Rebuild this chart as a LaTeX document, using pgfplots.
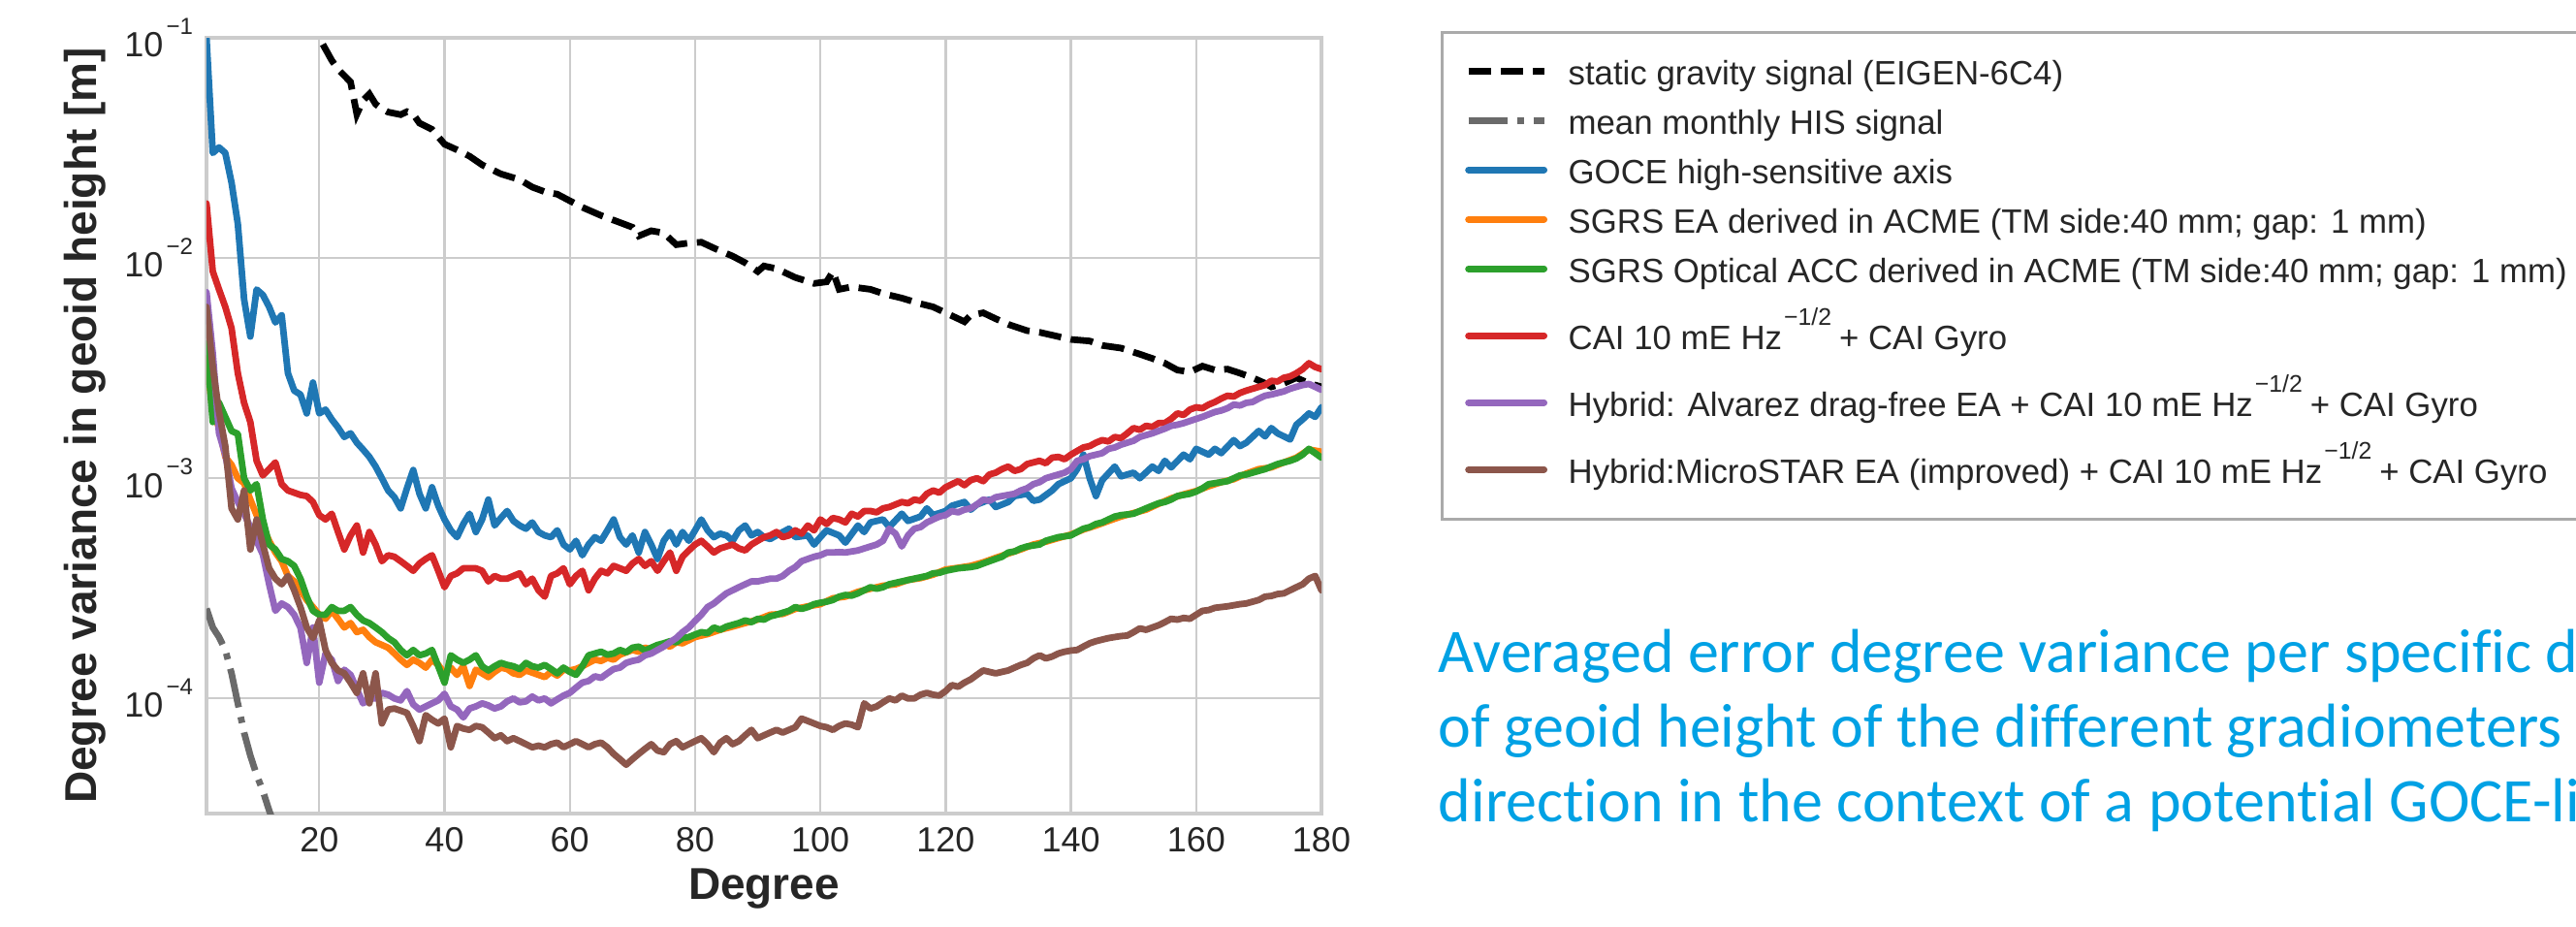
\documentclass[border=0pt]{standalone}
\usepackage{pgfplots}
\pgfplotsset{compat=1.18}
\usepackage{fontspec}
\setmainfont{Liberation Sans}[BoldFont={Liberation Sans Bold}]
\newfontfamily\calibri{Carlito}[Ligatures={NoCommon}]

\definecolor{tblue}{HTML}{1F77B4}
\definecolor{torange}{HTML}{FF7F0E}
\definecolor{tgreen}{HTML}{2CA02C}
\definecolor{tred}{HTML}{D62728}
\definecolor{tpurple}{HTML}{9467BD}
\definecolor{tbrown}{HTML}{8C564B}
\definecolor{hisgray}{HTML}{6A6A6A}
\definecolor{textgray}{HTML}{262626}
\definecolor{gridgray}{HTML}{CCCCCC}
\definecolor{framegray}{HTML}{AAAAAA}
\definecolor{capblue}{HTML}{00A1E4}

% exponent helpers
\newcommand{\ex}[1]{10\hspace{0.8pt}\raisebox{5.8pt}{\fontsize{6pt}{7pt}\selectfont −#1}}
\newcommand{\hz}{Hz\hspace{0.5pt}\raisebox{6.2pt}{\fontsize{6.2pt}{7pt}\selectfont −1/2}\hspace{2pt}}
\newcommand{\strN}{\rule{0pt}{8.4pt}}
\newcommand{\strS}{\rule{0pt}{12.9pt}}

\begin{document}
\begin{tikzpicture}
\useasboundingbox (0pt,0pt) rectangle (664.25pt,-238.75pt);
\clip (0pt,0pt) rectangle (664.25pt,-238.75pt);

\begin{axis}[
    at={(53.25pt,-209.75pt)}, anchor=south west,
    scale only axis, width=287.5pt, height=200pt,
    ymode=log,
    xmin=2, xmax=180, ymin=3e-5, ymax=1e-1,
    xtick={20,40,...,180},
    ytick={1e-4,1e-3,1e-2,1e-1},
    yticklabels={\ex{4},\ex{3},\ex{2},\ex{1}},
    minor tick num=0, yminorticks=false,
    major tick length=0pt,
    grid=major,
    grid style={draw=gridgray, line width=0.6pt},
    axis line style={draw=gridgray, line width=0.8pt},
    /pgf/number format/assume math mode=true,
    tick label style={font=\fontsize{9pt}{10pt}\selectfont, text=textgray},
    xticklabel style={inner sep=3.5pt},
    xlabel={Degree},
    ylabel={Degree variance in geoid height [m]},
    every axis x label/.style={at={(axis description cs:0.5,-0.0975)}, anchor=center,
        font=\fontsize{11.5pt}{13pt}\selectfont\bfseries, text=textgray},
    every axis y label/.style={at={(axis description cs:-0.1087,0.5)}, rotate=90, anchor=center,
        font=\fontsize{11.5pt}{13pt}\selectfont\bfseries, text=textgray},
    legend image code/.code={\draw[#1] (0pt,3.5pt) -- (19.5pt,3.5pt);},
    legend style={at={(1.1070,1.00875)}, anchor=north west,
        draw=framegray, line width=0.8pt, fill=white,
        inner xsep=5.9pt, inner ysep=5pt, column sep=5.4pt, row sep=0pt,
        font=\fontsize{8.7pt}{9.5pt}\selectfont, text=textgray,
        nodes={inner sep=0pt, text depth=4.35pt},
        cells={anchor=base west}},
]

% static gravity signal
\addplot[black, line width=1.7pt, dash pattern=on 5.8pt off 2.5pt] coordinates {
(18,0.125) (20,0.100) (22,0.079) (23,0.072) (25,0.063) (26,0.045) (27,0.052) (28,0.0556)
(29,0.050) (30,0.0476) (31,0.046) (33,0.0448) (34,0.0462) (35,0.045) (36,0.041) (38,0.0384)
(40,0.0329) (42,0.031) (44,0.0290) (46,0.0265) (49,0.0241) (52,0.0227) (54,0.021) (56,0.0200)
(58,0.0195) (60,0.0182) (62,0.017) (65,0.0156) (68,0.0145) (70,0.0138) (71,0.0126) (73,0.0133)
(75,0.0130) (77,0.0115) (79,0.0117) (81,0.0118) (83,0.0111) (86,0.0102) (88,0.00952) (90,0.00869)
(91,0.0092) (93,0.00895) (96,0.00816) (99,0.00767) (101,0.0078) (102,0.00869) (103,0.00721)
(105,0.0074) (108,0.00721) (110,0.0069) (113,0.00658) (116,0.0062) (118,0.0060) (120,0.00564)
(123,0.00514) (124,0.0055) (126,0.00564) (128,0.0053) (130,0.0050) (133,0.00468) (135,0.0046)
(138,0.00440) (140,0.00427) (143,0.0042) (145,0.00401) (148,0.0039) (151,0.00366) (153,0.0035)
(155,0.00333) (157,0.0031) (159,0.00304) (161,0.00323) (163,0.0031) (165,0.00313) (167,0.0030)
(169,0.00286) (171,0.0027) (172,0.00260) (174,0.0027) (176,0.00286) (178,0.0027) (180,0.00260)
};
\addlegendentry{\strN static gravity signal (EIGEN-6C4)}

% mean monthly HIS signal
\addplot[hisgray, line width=1.7pt, dash pattern=on 10.2pt off 2.5pt on 1.6pt off 2.5pt] coordinates {
(2,2.56e-4) (3,2.1e-4) (4,1.9e-4) (5,1.66e-4) (6,1.3e-4) (7,9.5e-5) (8,7e-5) (9,5.5e-5)
(10,4.5e-5) (11,3.8e-5) (12,3.1e-5) (13,2.6e-5) (14,2.1e-5) (15,1.7e-5)
};
\addlegendentry{\strN mean monthly HIS signal}

% GOCE
\addplot[tblue, line width=1.7pt, line join=round, line cap=round] coordinates {
(2,0.100) (3,0.030) (4,0.0318) (5,0.030) (6,0.022) (7,0.0143) (8,0.0065) (9,0.0044) (10,0.0072)
(11,0.0068) (12,0.0060) (13,0.0051) (14,0.0055) (15,0.0030) (16,0.0025) (17,0.0024) (18,0.00197)
(19,0.00272) (20,0.00197) (21,0.00205) (22,0.00185) (23,0.00170) (24,0.00154) (25,0.00160)
(26,0.00145) (27,0.00135) (28,0.00125) (29,0.00113) (30,0.00100) (31,0.00088) (32,0.00082)
(33,0.00073) (34,0.00090) (35,0.00109) (36,0.00085) (37,0.00073) (38,0.00091) (39,0.00075)
(40,0.00065) (41,0.00058) (42,0.00054) (43,0.00062) (44,0.00069) (45,0.00057) (46,0.00065)
(47,0.00080) (48,0.00061) (49,0.00066) (50,0.00071) (51,0.00064) (52,0.00061) (53,0.00059)
(54,0.00063) (55,0.00057) (56,0.00055) (57,0.00054) (58,0.00058) (59,0.00050) (60,0.000475)
(61,0.00052) (62,0.000447) (63,0.00050) (64,0.00054) (65,0.00052) (66,0.00058) (67,0.00065)
(68,0.00054) (69,0.00050) (70,0.00055) (71,0.00046) (72,0.00057) (73,0.00050) (74,0.00043)
(75,0.00052) (76,0.00057) (77,0.00050) (78,0.00057) (79,0.00052) (80,0.00058) (81,0.00065)
(82,0.00058) (83,0.00054) (84,0.00056) (85,0.00055) (86,0.00052) (87,0.00058) (88,0.00061)
(89,0.00055) (90,0.00057) (91,0.00054) (92,0.00053) (93,0.00055) (95,0.00059) (96,0.00054)
(98,0.00055) (99,0.00050) (100,0.00054) (101,0.00058) (103,0.00055) (104,0.00051) (106,0.00061)
(107,0.00057) (108,0.00063) (110,0.00065) (111,0.00060) (113,0.00069) (114,0.00064) (116,0.00067)
(117,0.00073) (118,0.00068) (120,0.00071) (121,0.00075) (123,0.00078) (124,0.00072) (125,0.00076)
(127,0.00080) (128,0.00074) (130,0.00078) (131,0.00083) (133,0.00085) (134,0.00079) (135,0.00080)
(137,0.00088) (138,0.00094) (140,0.00100) (141,0.00110) (142,0.00128) (143,0.00100) (144,0.00083)
(145,0.00098) (147,0.00113) (148,0.00102) (150,0.00106) (151,0.00100) (153,0.00113) (154,0.00108)
(155,0.00120) (156,0.00112) (158,0.00128) (159,0.00122) (160,0.00136) (162,0.00128) (163,0.00136)
(164,0.00130) (166,0.00149) (167,0.00140) (168,0.00145) (170,0.00164) (171,0.00155) (172,0.00169)
(173,0.00160) (175,0.00150) (176,0.00175) (177,0.00185) (178,0.00197) (179,0.00190) (180,0.00210)
};
\addlegendentry{\strN GOCE high-sensitive axis}

% SGRS EA
\addplot[torange, line width=1.7pt, line join=round, line cap=round] coordinates {
(2,0.0035) (3,0.0020) (4,0.0017) (5,0.00125) (6,0.00115) (7,0.00100) (8,0.00095) (9,0.00080)
(10,0.00068) (11,0.00060) (12,0.00052) (13,0.00046) (14,0.00042) (15,0.00036) (16,0.00034)
(17,0.00031) (18,0.00028) (19,0.00026) (20,0.00024) (21,0.00023) (22,0.00025) (23,0.00023)
(24,0.00021) (25,0.00022) (26,0.00020) (27,0.000205) (28,0.00019) (29,0.00018) (30,0.000175)
(31,0.000170) (32,0.00016) (33,0.000150) (34,0.000142) (35,0.000150) (36,0.000145) (37,0.000138)
(38,0.000150) (39,0.000142) (40,0.000130) (41,0.000138) (42,0.000128) (43,0.000140) (44,0.000114)
(45,0.000135) (46,0.000130) (47,0.000125) (48,0.000132) (49,0.000138) (50,0.000136) (51,0.000130)
(52,0.000128) (53,0.000134) (54,0.000131) (55,0.000128) (56,0.000125) (57,0.000132) (58,0.000127)
(59,0.000135) (60,0.000134) (61,0.000136) (62,0.000140) (63,0.000145) (64,0.000150) (65,0.000148)
(66,0.000153) (67,0.000150) (68,0.000158) (69,0.000162) (70,0.000166) (71,0.000163) (72,0.000170)
(73,0.000167) (74,0.000172) (75,0.000176) (76,0.000172) (77,0.000180) (78,0.000178) (80,0.000190)
(82,0.000196) (84,0.000205) (86,0.000212) (88,0.00022) (90,0.000228) (92,0.00024) (94,0.000242)
(96,0.000255) (98,0.000262) (100,0.000268) (102,0.000285) (104,0.000290) (106,0.000305)
(108,0.000315) (110,0.000325) (112,0.000330) (114,0.000345) (116,0.000352) (118,0.000365)
(120,0.000385) (122,0.000392) (124,0.0004) (126,0.000415) (128,0.000435) (130,0.000455)
(132,0.000475) (134,0.0005) (136,0.000515) (138,0.000535) (140,0.000555) (142,0.000585)
(144,0.00061) (146,0.00064) (148,0.00067) (150,0.000695) (152,0.00072) (154,0.000765) (156,0.00081)
(158,0.000845) (160,0.000875) (162,0.00092) (164,0.00096) (166,0.00099) (168,0.00105) (170,0.0011)
(172,0.00112) (174,0.00118) (176,0.00124) (178,0.00135) (180,0.00132)
};
\addlegendentry{\strN SGRS EA derived in ACME (TM side:40 mm; gap: 1 mm)}

% SGRS Optical ACC
\addplot[tgreen, line width=1.7pt, line join=round, line cap=round] coordinates {
(2,0.0041) (3,0.0018) (4,0.0022) (5,0.0019) (6,0.00164) (7,0.00159) (8,0.00100) (9,0.00088)
(10,0.00094) (11,0.00065) (12,0.00050) (13,0.000475) (14,0.00043) (15,0.00042) (16,0.00040)
(17,0.00035) (18,0.00029) (19,0.00025) (20,0.00024) (21,0.00024) (22,0.00026) (23,0.00025)
(24,0.00025) (25,0.00026) (26,0.00024) (27,0.000226) (28,0.00022) (29,0.00021) (30,0.00020)
(31,0.000188) (32,0.00018) (33,0.000166) (34,0.000157) (35,0.000166) (36,0.000157) (37,0.000160)
(38,0.000166) (39,0.000140) (40,0.000118) (41,0.000157) (42,0.000150) (43,0.000145) (44,0.000150)
(45,0.000157) (46,0.000140) (47,0.000134) (48,0.000140) (49,0.000145) (50,0.000142) (51,0.000140)
(52,0.000136) (53,0.000145) (54,0.000140) (55,0.000138) (56,0.000142) (57,0.000136) (58,0.000130)
(59,0.000138) (60,0.000132) (61,0.000128) (62,0.000140) (63,0.000157) (64,0.000160) (65,0.000163)
(66,0.000158) (67,0.000160) (68,0.000166) (69,0.000162) (70,0.000170) (71,0.000172) (72,0.000165)
(73,0.000170) (74,0.000175) (75,0.000178) (76,0.000182) (77,0.000180) (78,0.000188) (79,0.000190)
(80,0.000195) (81,0.000200) (82,0.000198) (83,0.00021) (84,0.000205) (85,0.000212) (86,0.000216)
(87,0.00022) (88,0.000226) (89,0.000222) (90,0.00023) (91,0.000228) (92,0.000236) (93,0.00024)
(94,0.000245) (95,0.00025) (96,0.00026) (97,0.000255) (98,0.00026) (99,0.000268) (100,0.000272)
(101,0.000275) (102,0.00028) (103,0.00029) (104,0.000295) (105,0.000293) (106,0.0003) (107,0.00031)
(108,0.00032) (109,0.000315) (110,0.00032) (111,0.00033) (112,0.000335) (113,0.00034)
(114,0.000345) (115,0.00035) (116,0.000355) (117,0.00036) (118,0.00037) (119,0.000372)
(120,0.00038) (122,0.00039) (124,0.000395) (125,0.0004) (126,0.00041) (127,0.00042) (128,0.00043)
(129,0.00044) (130,0.00046) (131,0.000465) (132,0.00048) (133,0.00049) (134,0.000495) (135,0.0005)
(136,0.00052) (137,0.00053) (138,0.00054) (139,0.000545) (140,0.00055) (141,0.00057) (142,0.00059)
(143,0.0006) (144,0.00062) (145,0.00063) (146,0.00065) (147,0.00067) (148,0.00068) (149,0.000685)
(150,0.00069) (151,0.00071) (152,0.00073) (153,0.00075) (154,0.00077) (155,0.00078) (156,0.0008)
(157,0.00083) (158,0.00084) (159,0.00085) (160,0.00087) (161,0.0009) (162,0.00094) (163,0.00095)
(164,0.00096) (165,0.00097) (166,0.001) (167,0.00103) (168,0.00104) (169,0.00106) (170,0.00108)
(171,0.0011) (172,0.00113) (173,0.00116) (174,0.00118) (175,0.0012) (176,0.00123) (177,0.00128)
(178,0.00136) (179,0.0013) (180,0.00124)
};
\addlegendentry{\strN \makebox[290pt][l]{SGRS Optical ACC derived in ACME (TM side:40 mm; gap: 1 mm)}}

% CAI
\addplot[tred, line width=1.7pt, line join=round, line cap=round] coordinates {
(2,0.0177) (3,0.0087) (4,0.0072) (5,0.0060) (6,0.0048) (7,0.0030) (8,0.0022) (9,0.0018)
(10,0.00120) (11,0.00103) (12,0.00110) (13,0.00118) (14,0.00094) (15,0.00088) (16,0.00086)
(17,0.00084) (18,0.00083) (19,0.00078) (20,0.00068) (21,0.00065) (22,0.00069) (23,0.00057)
(24,0.000475) (25,0.00055) (26,0.00061) (27,0.00046) (28,0.00057) (29,0.00050) (30,0.00042)
(31,0.000447) (32,0.00044) (33,0.00042) (34,0.00040) (35,0.00038) (36,0.00041) (37,0.00043)
(38,0.000447) (39,0.00038) (40,0.00032) (41,0.00036) (42,0.00037) (43,0.00039) (44,0.00039)
(45,0.00039) (46,0.00038) (47,0.00034) (48,0.00036) (49,0.00035) (50,0.00035) (51,0.00036)
(52,0.00037) (53,0.00033) (54,0.00035) (55,0.00031) (56,0.00029) (57,0.00036) (58,0.00037)
(59,0.00039) (60,0.00033) (61,0.00036) (62,0.00038) (63,0.00031) (64,0.00035) (65,0.00038)
(66,0.00037) (67,0.00040) (68,0.00039) (69,0.00038) (70,0.00041) (71,0.00043) (72,0.00040)
(73,0.00042) (74,0.00038) (75,0.00042) (76,0.00046) (77,0.00038) (78,0.00044) (79,0.00047)
(80,0.00050) (81,0.00052) (82,0.00049) (83,0.00046) (84,0.00048) (85,0.00049) (86,0.00050)
(87,0.00048) (88,0.00047) (89,0.00050) (90,0.00052) (91,0.00054) (92,0.00055) (93,0.00057)
(94,0.00054) (95,0.00055) (96,0.00058) (97,0.00056) (98,0.00061) (99,0.00058) (100,0.00065)
(101,0.00062) (102,0.00066) (103,0.00065) (104,0.00063) (105,0.00069) (106,0.00067) (107,0.00071)
(108,0.00071) (109,0.00070) (110,0.00073) (111,0.00074) (112,0.00076) (113,0.00078) (114,0.00077)
(115,0.00080) (116,0.00079) (117,0.00085) (118,0.00088) (119,0.00086) (120,0.00091) (122,0.00097)
(123,0.00093) (124,0.00098) (125,0.00100) (126,0.00097) (127,0.00104) (128,0.00106) (129,0.00110)
(130,0.00113) (131,0.00108) (132,0.00110) (133,0.00116) (134,0.00118) (135,0.00120) (136,0.00117)
(137,0.00124) (138,0.00125) (139,0.00122) (140,0.00128) (141,0.00133) (142,0.00138) (143,0.00140)
(144,0.00145) (145,0.00149) (146,0.00147) (147,0.00154) (148,0.00152) (149,0.00160) (150,0.00169)
(151,0.00166) (152,0.00173) (153,0.00171) (154,0.00178) (155,0.00178) (156,0.00186) (157,0.00197)
(158,0.00194) (159,0.00205) (160,0.00210) (161,0.00208) (162,0.00216) (163,0.00222) (164,0.00230)
(165,0.00237) (166,0.00235) (167,0.00244) (168,0.00250) (169,0.00255) (170,0.00260) (171,0.00265)
(172,0.00277) (173,0.00275) (174,0.00286) (175,0.00290) (176,0.00300) (177,0.00313) (178,0.00333)
(179,0.00320) (180,0.00313)
};
\addlegendentry{\strS CAI 10 mE \hz + CAI Gyro}

% Hybrid Alvarez
\addplot[tpurple, line width=1.7pt, line join=round, line cap=round] coordinates {
(2,0.0070) (3,0.0037) (4,0.0016) (5,0.00128) (6,0.00090) (7,0.00078) (8,0.00069) (9,0.00060)
(10,0.00052) (11,0.00045) (12,0.00033) (13,0.00025) (14,0.00027) (15,0.00026) (16,0.00024)
(17,0.00021) (18,0.000145) (19,0.00021) (20,0.000118) (21,0.000160) (22,0.000150) (23,0.00012)
(24,0.000135) (25,0.000128) (26,0.000110) (27,0.000095) (28,0.000100) (29,0.000100) (30,0.000106)
(31,0.000104) (32,0.000100) (33,0.000098) (34,0.000108) (35,0.000094) (36,0.000089) (37,0.000092)
(38,0.000095) (39,0.000098) (40,0.000105) (41,0.000092) (42,0.000089) (43,0.000082) (44,0.000090)
(45,0.000092) (46,0.000095) (47,0.000093) (48,0.000090) (49,0.000092) (50,0.000097) (51,0.000100)
(52,0.000096) (53,0.000097) (54,0.000102) (55,0.000098) (56,0.000100) (57,0.000095) (58,0.000099)
(59,0.000103) (60,0.000106) (61,0.000112) (62,0.000118) (63,0.000120) (64,0.000126) (65,0.000124)
(66,0.000130) (67,0.000136) (68,0.000138) (69,0.000145) (70,0.000148) (71,0.000150) (72,0.000157)
(73,0.000160) (74,0.000166) (75,0.000172) (76,0.000180) (77,0.000188) (78,0.00020) (79,0.00021)
(80,0.000225) (81,0.00024) (82,0.00026) (83,0.00027) (84,0.000285) (85,0.0003) (86,0.00031)
(87,0.00032) (88,0.00033) (89,0.00034) (90,0.00034) (91,0.000345) (92,0.00035) (93,0.00035)
(94,0.00036) (95,0.00038) (96,0.000395) (97,0.00042) (98,0.00043) (99,0.00044) (100,0.000447)
(101,0.00046) (102,0.00046) (103,0.000462) (104,0.00046) (105,0.000465) (106,0.00047) (107,0.00048)
(108,0.00049) (109,0.0005) (110,0.00052) (111,0.00059) (112,0.00056) (113,0.00049) (114,0.00055)
(115,0.00059) (116,0.0006) (117,0.00063) (118,0.00065) (119,0.00067) (120,0.00068) (121,0.00071)
(122,0.0007) (123,0.00072) (124,0.00073) (125,0.00076) (126,0.0008) (127,0.00079) (128,0.00082)
(129,0.00083) (130,0.00084) (131,0.00085) (132,0.00088) (133,0.0009) (134,0.00094) (135,0.00096)
(136,0.001) (137,0.00102) (138,0.00104) (139,0.00106) (140,0.0011) (141,0.0012) (142,0.00122)
(143,0.00126) (144,0.00128) (145,0.0013) (146,0.00136) (147,0.00138) (148,0.00142) (149,0.00145)
(150,0.00148) (151,0.00154) (152,0.00157) (153,0.0016) (154,0.00164) (155,0.00168) (156,0.00173)
(157,0.00175) (158,0.00178) (159,0.00182) (160,0.00186) (161,0.0019) (162,0.00195) (163,0.002)
(164,0.00203) (165,0.00208) (166,0.00216) (167,0.00214) (168,0.0022) (169,0.00222) (170,0.0023)
(171,0.00237) (172,0.0024) (173,0.00244) (174,0.00248) (175,0.00255) (176,0.0026) (177,0.00265)
(178,0.00268) (179,0.0026) (180,0.00252)
};
\addlegendentry{\strS Hybrid: Alvarez drag-free EA + CAI 10 mE \hz + CAI Gyro}

% Hybrid MicroSTAR
\addplot[tbrown, line width=1.7pt, line join=round, line cap=round] coordinates {
(2,0.0060) (3,0.0032) (4,0.0020) (5,0.00140) (6,0.00073) (7,0.00065) (8,0.00088) (9,0.000475)
(10,0.00065) (11,0.0005) (12,0.00039) (13,0.00035) (14,0.00033) (15,0.00036) (16,0.00031)
(17,0.00026) (18,0.00021) (19,0.000188) (20,0.000226) (21,0.000166) (22,0.000145) (23,0.000134)
(24,0.00013) (25,0.000118) (26,0.000106) (27,0.00013) (28,0.000095) (29,0.00013) (30,0.000077)
(31,0.000089) (32,0.00009) (33,0.000088) (34,0.000086) (35,0.000075) (36,0.000064) (37,0.000084)
(38,0.000080) (39,0.000077) (40,0.000081) (41,0.00006) (42,0.000075) (43,0.000073) (44,0.000072)
(45,0.000075) (46,0.000074) (47,0.000070) (48,0.000066) (49,0.000068) (50,0.000064) (51,0.000066)
(52,0.000064) (53,0.000062) (54,0.00006) (55,0.000061) (56,0.00006) (57,0.000062) (58,0.000063)
(59,0.00006) (60,0.000062) (61,0.000064) (62,0.000062) (63,0.00006) (64,0.000062) (65,0.000063)
(66,0.00006) (67,0.000056) (68,0.000053) (69,0.00005) (70,0.000053) (71,0.000056) (72,0.000059)
(73,0.000062) (74,0.000058) (75,0.000057) (76,0.000062) (77,0.000064) (78,0.00006) (79,0.000062)
(80,0.000064) (81,0.000066) (82,0.000062) (83,0.000057) (84,0.000063) (85,0.000066) (86,0.000062)
(87,0.000064) (88,0.000068) (89,0.000072) (90,0.000066) (91,0.000068) (92,0.00007) (93,0.000072)
(94,0.00007) (95,0.000072) (96,0.000074) (97,0.000081) (98,0.000079) (99,0.000077) (100,0.000075)
(101,0.000074) (102,0.000072) (103,0.000075) (104,0.000077) (105,0.000076) (106,0.000074)
(107,0.000095) (108,0.00009) (109,0.000092) (110,0.000096) (111,0.0001) (112,0.000098)
(113,0.000103) (114,0.0001) (115,0.0001) (116,0.000104) (117,0.000106) (118,0.000104)
(119,0.000103) (120,0.000108) (121,0.000115) (122,0.000113) (123,0.000118) (124,0.000122)
(125,0.000128) (126,0.000134) (127,0.000132) (128,0.00013) (129,0.000132) (130,0.000134)
(131,0.000138) (132,0.000142) (133,0.000145) (134,0.000152) (135,0.000157) (136,0.000152)
(137,0.000155) (138,0.00016) (139,0.000163) (140,0.000165) (141,0.000166) (142,0.000172)
(143,0.000178) (144,0.000182) (145,0.000185) (146,0.000188) (147,0.00019) (148,0.000192)
(149,0.000193) (150,0.0002) (151,0.000208) (152,0.000205) (153,0.00021) (154,0.000215)
(155,0.000222) (156,0.00023) (157,0.000228) (158,0.000232) (159,0.00023) (160,0.00024)
(161,0.00025) (162,0.000252) (163,0.000258) (164,0.00026) (165,0.000262) (166,0.000265)
(167,0.000268) (168,0.00027) (169,0.000275) (170,0.00028) (171,0.00029) (172,0.000292)
(173,0.000298) (174,0.0003) (175,0.00031) (176,0.00032) (177,0.00033) (178,0.00035) (179,0.00036)
(180,0.00031)
};
\addlegendentry{\strS Hybrid:MicroSTAR EA (improved) + CAI 10 mE \hz + CAI Gyro}

\end{axis}

% caption on the right of the slide (cut off at the right edge as in the original)
\begin{scope}[every node/.style={anchor=base west, inner sep=0pt, text=capblue,
    font=\calibri\fontsize{16pt}{19pt}\selectfont}]
\node at (370.75pt,-173.25pt) {Averaged error degree variance per specific degree};
\node at (370.75pt,-192.5pt) {of geoid height of the different gradiometers in radial};
\node at (370.75pt,-211.75pt) {direction in the context of a potential GOCE-like mission};
\end{scope}
\end{tikzpicture}
\end{document}
